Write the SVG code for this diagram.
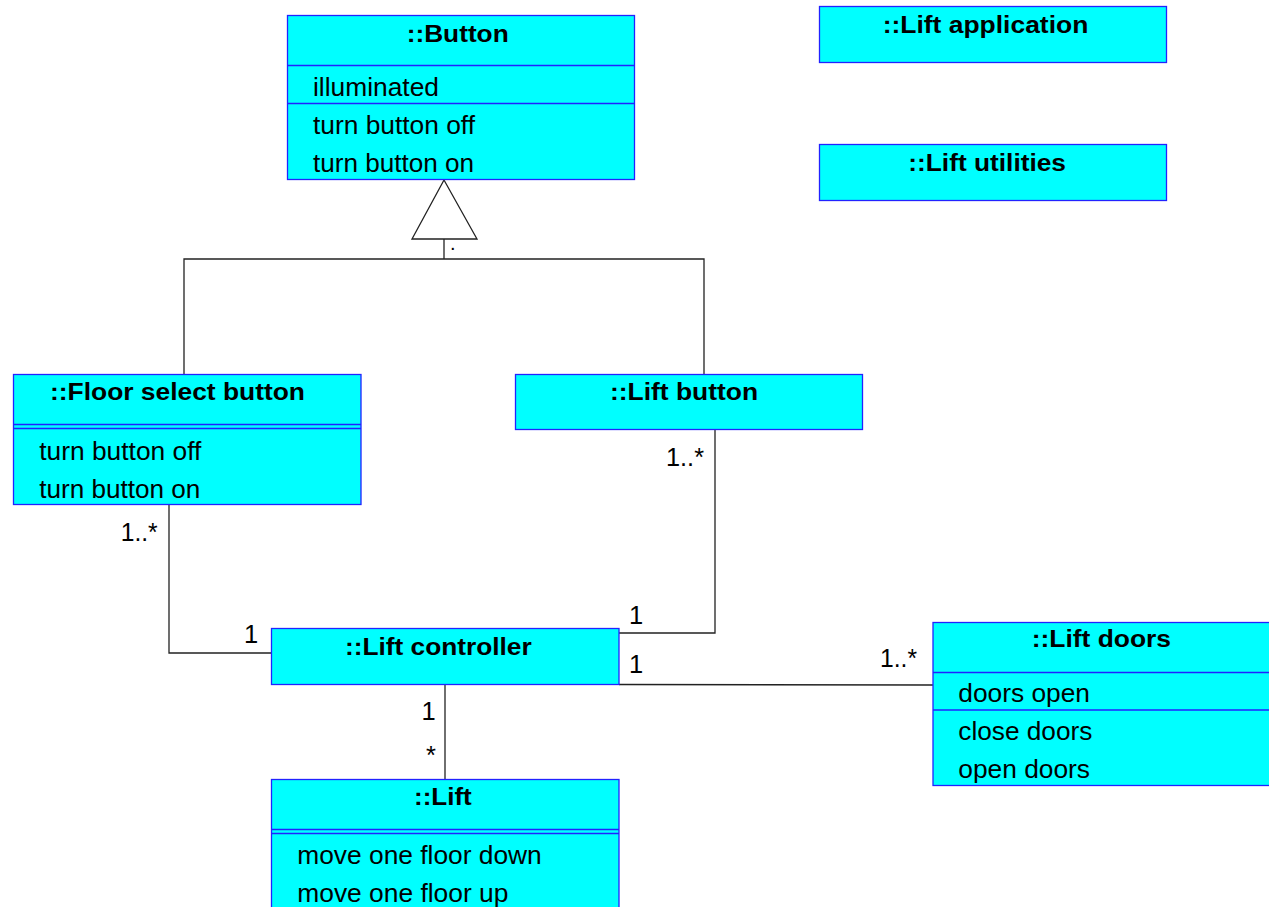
<svg xmlns="http://www.w3.org/2000/svg" width="1269" height="907" viewBox="0 0 1269 907">
<style>
.box{fill:#00ffff;stroke:#2222ff;stroke-width:1.3}
.div{stroke:#2222ff;stroke-width:1.3;fill:none}
.t{font-family:"Liberation Sans",Arial,sans-serif;font-weight:bold;font-size:23px;fill:#000}
.m{font-family:"Liberation Sans",Arial,sans-serif;font-size:25.5px;fill:#000}
.c{stroke:#222;stroke-width:1.3;fill:none}
</style>
<rect width="1269" height="907" fill="#fff"/>
<g id="connectors">
<polygon class="c" points="444,180 412,239 477,239" style="fill:#fff"/>
<line class="c" x1="444" y1="239" x2="444" y2="259"/>
<polyline class="c" points="184,374 184,259 704,259 704,374"/>
<text class="m" x="450" y="250" style="font-size:20px">.</text>
<polyline class="c" points="169,505 169,653 271,653"/>
<text class="m" x="120.7" y="541" textLength="37" lengthAdjust="spacingAndGlyphs">1..*</text>
<text class="m" x="244" y="643">1</text>
<polyline class="c" points="715,430 715,633 619,633"/>
<text class="m" x="666" y="466" textLength="38" lengthAdjust="spacingAndGlyphs">1..*</text>
<text class="m" x="629" y="624">1</text>
<line class="c" x1="619" y1="684.5" x2="933" y2="685"/>
<text class="m" x="629" y="673">1</text>
<text class="m" x="880" y="667" textLength="37" lengthAdjust="spacingAndGlyphs">1..*</text>
<line class="c" x1="445" y1="684" x2="445" y2="779"/>
<text class="m" x="421.5" y="720">1</text>
<text class="m" x="426" y="764">*</text>
</g>
<g id="button">
<rect class="box" x="287.5" y="15.5" width="347" height="164"/>
<line class="div" x1="287.5" y1="65.5" x2="634.5" y2="65.5"/>
<line class="div" x1="287.5" y1="103.5" x2="634.5" y2="103.5"/>
<text class="t" x="406.7" y="42" textLength="102" lengthAdjust="spacingAndGlyphs">::Button</text>
<text class="m" x="313" y="95.5" textLength="126" lengthAdjust="spacingAndGlyphs">illuminated</text>
<text class="m" x="313" y="133.5" textLength="162" lengthAdjust="spacingAndGlyphs">turn button off</text>
<text class="m" x="313" y="171.5" textLength="161" lengthAdjust="spacingAndGlyphs">turn button on</text>
</g>
<g id="lift-application">
<rect class="box" x="819.5" y="6.5" width="347" height="56"/>
<text class="t" x="882.7" y="33" textLength="205.6" lengthAdjust="spacingAndGlyphs">::Lift application</text>
</g>
<g id="lift-utilities">
<rect class="box" x="819.5" y="144.5" width="347" height="56"/>
<text class="t" x="908.3" y="171" textLength="157.7" lengthAdjust="spacingAndGlyphs">::Lift utilities</text>
</g>
<g id="floor-select-button">
<rect class="box" x="13.5" y="374.5" width="347.5" height="130"/>
<line class="div" x1="13.5" y1="424.5" x2="361" y2="424.5"/>
<line class="div" x1="13.5" y1="428.5" x2="361" y2="428.5"/>
<text class="t" x="50" y="400" textLength="255" lengthAdjust="spacingAndGlyphs">::Floor select button</text>
<text class="m" x="39.3" y="459.5" textLength="162" lengthAdjust="spacingAndGlyphs">turn button off</text>
<text class="m" x="39.3" y="497.5" textLength="161" lengthAdjust="spacingAndGlyphs">turn button on</text>
</g>
<g id="lift-button">
<rect class="box" x="515.5" y="374.5" width="347" height="55"/>
<text class="t" x="610" y="400" textLength="148" lengthAdjust="spacingAndGlyphs">::Lift button</text>
</g>
<g id="lift-controller">
<rect class="box" x="271.5" y="628.5" width="347.5" height="56"/>
<text class="t" x="345" y="655" textLength="186.7" lengthAdjust="spacingAndGlyphs">::Lift controller</text>
</g>
<g id="lift">
<rect class="box" x="271.5" y="779.5" width="347.5" height="140"/>
<line class="div" x1="271.5" y1="829.5" x2="619" y2="829.5"/>
<line class="div" x1="271.5" y1="833.5" x2="619" y2="833.5"/>
<text class="t" x="414" y="805" textLength="57.7" lengthAdjust="spacingAndGlyphs">::Lift</text>
<text class="m" x="297.3" y="863.5" textLength="244.4" lengthAdjust="spacingAndGlyphs">move one floor down</text>
<text class="m" x="297.3" y="901.5" textLength="211" lengthAdjust="spacingAndGlyphs">move one floor up</text>
</g>
<g id="lift-doors">
<rect class="box" x="933" y="622.5" width="350" height="163"/>
<line class="div" x1="933" y1="672.5" x2="1283" y2="672.5"/>
<line class="div" x1="933" y1="710" x2="1283" y2="710"/>
<text class="t" x="1031.7" y="647" textLength="139.3" lengthAdjust="spacingAndGlyphs">::Lift doors</text>
<text class="m" x="958.3" y="701.5" textLength="131.7" lengthAdjust="spacingAndGlyphs">doors open</text>
<text class="m" x="958.3" y="739.5" textLength="134" lengthAdjust="spacingAndGlyphs">close doors</text>
<text class="m" x="958.3" y="777.5" textLength="131.7" lengthAdjust="spacingAndGlyphs">open doors</text>
</g>
</svg>
